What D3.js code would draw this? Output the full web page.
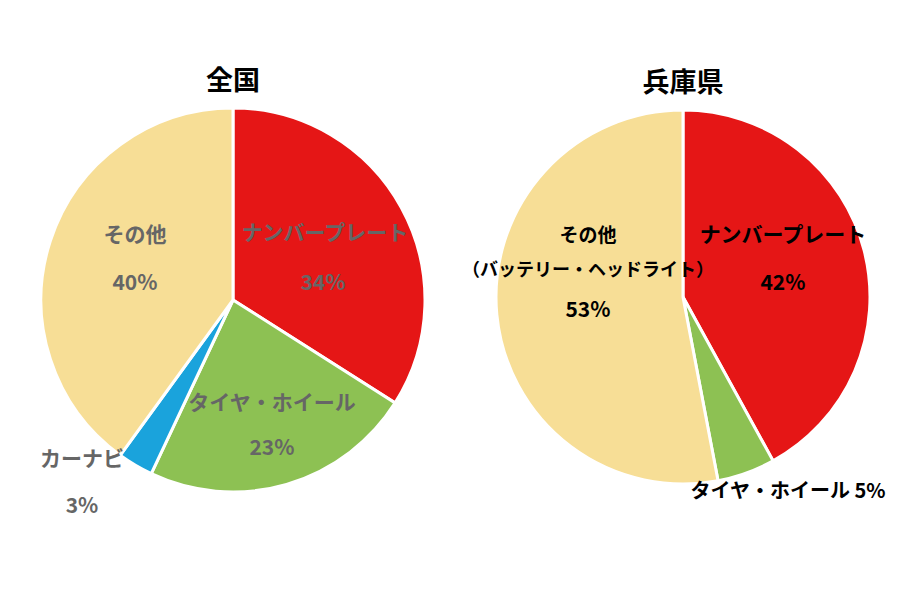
<!DOCTYPE html>
<html><head><meta charset="utf-8">
<script src="https://cdn.jsdelivr.net/npm/d3@7"></script>
<style>body{margin:0;background:#fff}text{font-family:"Noto Sans CJK JP","Noto Sans",sans-serif}</style>
</head><body><div id="chart"></div>
<script>
// 全国
const zenkokuNames = ["ナンバープレート", "タイヤ・ホイール", "カーナビ", "その他"];
const zenkokuValues = [34, 23, 3, 40];
const zenkokuColors = ["#E51616", "#8DC153", "#1AA3DC", "#F7DE96"];
// 兵庫県
const hyogoNames = ["ナンバープレート", "タイヤ・ホイール", "その他"];
const hyogoValues = [42, 5, 53];
const hyogoColors = ["#E51616", "#8DC153", "#F7DE96"];

const svg = d3.select("#chart").append("svg").attr("width", 900).attr("height", 600);

function renderPie(cx, cy, r, title, values, colors) {
    const g = svg.append("g").attr("transform", `translate(${cx},${cy})`);
    const pie = d3.pie().sort(null).value(d => d);
    const arc = d3.arc().innerRadius(0).outerRadius(r);
    g.selectAll("path").data(pie(values)).enter().append("path")
        .attr("d", arc)
        .attr("fill", (d, i) => colors[i])
        .attr("stroke", "#fff").attr("stroke-width", 3);
    svg.append("text").attr("x", cx).attr("y", cy - r - 18)
        .attr("text-anchor", "middle").attr("font-size", 27).attr("font-weight", "bold")
        .attr("fill", "#000").text(title);
}

renderPie(233, 300, 192, "全国", zenkokuValues, zenkokuColors);
renderPie(683, 297, 187, "兵庫県", hyogoValues, hyogoColors);

function label(x, y, t, color, size) {
    svg.append("text").attr("x", x).attr("y", y).attr("text-anchor", "middle")
        .attr("dominant-baseline", "middle").attr("font-size", size || 21)
        .attr("font-weight", "bold").attr("fill", color).text(t);
}
const gray = "#666";
label(325, 234, zenkokuNames[0], gray);
label(323, 284, zenkokuValues[0] + "%", gray);
label(272, 404, zenkokuNames[1], gray);
label(272, 449, zenkokuValues[1] + "%", gray);
label(82, 460, zenkokuNames[2], gray);
label(82, 507, zenkokuValues[2] + "%", gray);
label(135, 236, zenkokuNames[3], gray);
label(135, 284, zenkokuValues[3] + "%", gray);

label(783, 236, hyogoNames[0], "#000");
label(783, 284, hyogoValues[0] + "%", "#000");
label(588, 237, hyogoNames[2], "#000", 19);
label(588, 271, "（バッテリー・ヘッドライト）", "#000", 18);
label(588, 311, hyogoValues[2] + "%", "#000");
label(788, 493, hyogoNames[1] + " " + hyogoValues[1] + "%", "#000", 20);
</script></body></html>
